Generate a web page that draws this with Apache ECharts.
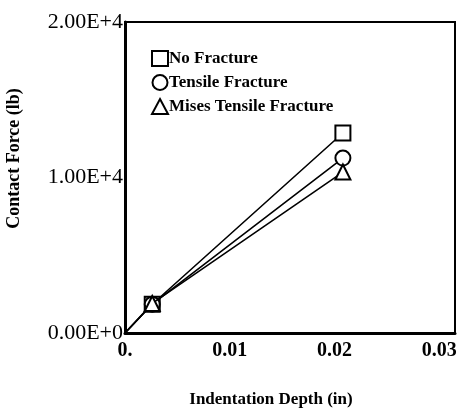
<!DOCTYPE html>
<html>
<head>
<meta charset="utf-8">
<script src="https://cdn.jsdelivr.net/npm/echarts@6/dist/echarts.min.js"></script>
<style>html,body{margin:0;padding:0;background:#fff;}#chart{width:459px;height:414px;}</style>
</head>
<body>
<div id="chart"></div>
<script>
var seriesNames = ['No Fracture', 'Tensile Fracture', 'Mises Tensile Fracture'];
var seriesSymbols = ['rect', 'circle', 'triangle'];
var depthValues = [0, 0.0026, 0.0208];
var noFracture = [0, 1850, 12860];
var tensileFracture = [0, 1850, 11250];
var misesTensileFracture = [0, 1900, 10350];
var xTickLabels = ['0.', '0.01', '0.02', '0.03'];
var yTickLabels = ['0.00E+0', '1.00E+4', '2.00E+4'];

var forceSets = [noFracture, tensileFracture, misesTensileFracture];
var serif = '"Liberation Serif", "DejaVu Serif", serif';

var chart = echarts.init(document.getElementById('chart'));
var series = seriesNames.map(function (name, i) {
  return {
    name: name,
    type: 'line',
    symbol: seriesSymbols[i],
    symbolSize: 15,
    lineStyle: { color: '#000', width: 1.6 },
    itemStyle: { color: '#fff', borderColor: '#000', borderWidth: 2 },
    data: depthValues.map(function (d, j) {
      var item = { value: [d, forceSets[i][j]] };
      if (j === 0) item.symbol = 'none';
      return item;
    }),
    z: 2 + i
  };
});

chart.setOption({
  animation: false,
  backgroundColor: '#fff',
  grid: { left: 125, top: 22, width: 330, height: 311, outerBoundsMode: 'none', containLabel: false, show: true, borderColor: '#000', borderWidth: 2, backgroundColor: 'transparent' },
  legend: {
    orient: 'vertical', left: 146, top: 45, itemGap: 7, itemWidth: 16, itemHeight: 15,
    textStyle: { fontFamily: serif, fontWeight: 'bold', fontSize: 17, color: '#000', padding: [0, 0, 0, -4] },
    data: seriesNames.map(function (n, i) {
      return { name: n, icon: seriesSymbols[i], itemStyle: { color: '#fff', borderColor: '#000', borderWidth: 2 } };
    })
  },
  xAxis: {
    type: 'value', min: 0, max: 0.0315, interval: 0.01,
    name: 'Indentation Depth (in)', nameLocation: 'middle', nameGap: 58,
    nameTextStyle: { fontFamily: serif, fontWeight: 'bold', fontSize: 17, color: '#000', padding: [0, 38, 0, 0] },
    axisLine: { show: true, lineStyle: { color: '#000', width: 3 } },
    axisTick: { show: false },
    splitLine: { show: false },
    axisLabel: {
      showMaxLabel: false, margin: 8, color: '#000', fontFamily: serif, fontWeight: 'bold', fontSize: 20,
      formatter: function (v) { return xTickLabels[Math.round(v / 0.01)]; }
    }
  },
  yAxis: {
    type: 'value', min: 0, max: 20000, interval: 10000,
    name: 'Contact Force (lb)', nameLocation: 'middle', nameGap: 102, nameRotate: 90,
    nameTextStyle: { fontFamily: serif, fontWeight: 'bold', fontSize: 18, color: '#000', padding: [0, 0, 0, 38] },
    axisLine: { show: true, lineStyle: { color: '#000', width: 3 } },
    axisTick: { show: false },
    splitLine: { show: false },
    axisLabel: {
      margin: 2, color: '#000', fontFamily: serif, fontSize: 22,
      formatter: function (v) { return yTickLabels[Math.round(v / 10000)]; }
    }
  },
  series: series
});
</script>
</body>
</html>
